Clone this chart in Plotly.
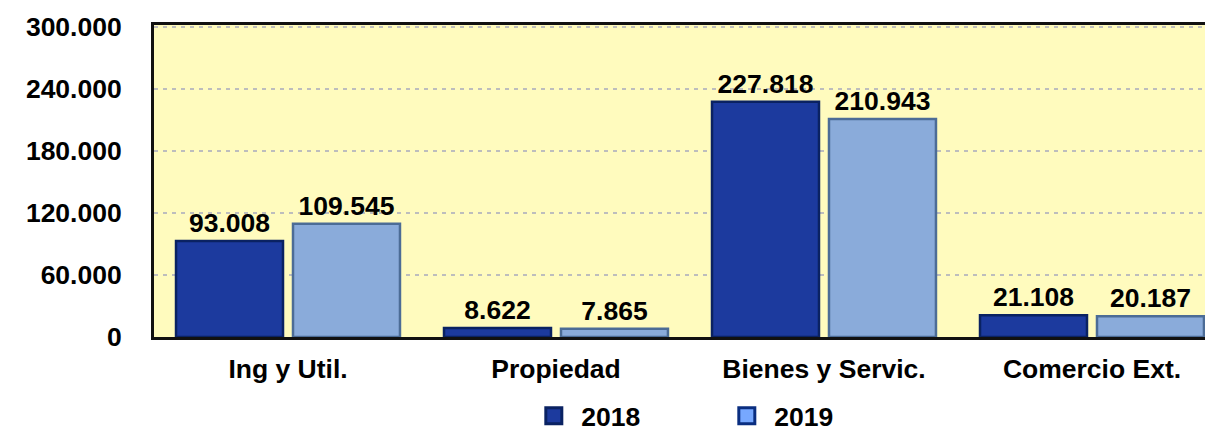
import plotly.graph_objects as go

categories = ["Ing y Util.", "Propiedad", "Bienes y Servic.", "Comercio Ext."]
values_2018 = [93008, 8622, 227818, 21108]
values_2019 = [109545, 7865, 210943, 20187]
series_names = ["2018", "2019"]
y_ticks = [0, 60000, 120000, 180000, 240000, 300000]

FONT = "Liberation Sans, Arial, sans-serif"
FS = 26.5
fill_2018, line_2018 = "#1C3A9E", "#0A2262"
fill_2019, line_2019 = "#8AABDA", "#4C6C96"

def bold(size):
    return dict(family=FONT, size=size, color="#000", weight="bold")

fig = go.Figure()
for name, vals, fc, lc in [(series_names[0], values_2018, fill_2018, line_2018),
                           (series_names[1], values_2019, fill_2019, line_2019)]:
    fig.add_trace(go.Bar(
        x=categories, y=vals, name=name, showlegend=False,
        marker=dict(color=fc, line=dict(color=lc, width=2.5)),
        text=vals, texttemplate="%{y:,d}", textposition="outside",
        textfont=bold(FS),
        constraintext="none", cliponaxis=False,
    ))

# legend entries
for name, fc, lc in [(series_names[0], "#1C3A9E", "#0A2262"),
                     (series_names[1], "#77A8FF", "#0A2E80")]:
    fig.add_trace(go.Scatter(
        x=[None], y=[None], mode="markers", name="\u00a0" + name,
        marker=dict(symbol="square", size=16, color=fc, line=dict(color=lc, width=3)),
    ))

fig.update_layout(
    width=1205, height=431,
    margin=dict(l=154, r=0, t=25, b=94),
    paper_bgcolor="white", plot_bgcolor="#FFFBBE",
    barmode="group", bargap=0.127, bargroupgap=0.0855,
    separators=",.",
    font=bold(FS),
    showlegend=True,
    legend=dict(orientation="h", xref="container", yref="container",
                x=0.443, xanchor="left", y=0.035, yanchor="middle",
                entrywidth=148, entrywidthmode="pixels",
                font=bold(FS),
                bgcolor="rgba(0,0,0,0)"),
)
fig.update_xaxes(
    range=[-0.5, 3.4217], showline=True, linecolor="#111", linewidth=3, mirror=True,
    showgrid=False, ticks="", ticklabelstandoff=6, automargin=False,
    tickfont=bold(FS),
)
fig.update_yaxes(
    range=[0, 302000], tickvals=y_ticks, tickformat=",d",
    showline=True, linecolor="#111", linewidth=3, zeroline=False,
    showgrid=True, gridcolor="#BDBDBD", gridwidth=2, griddash="4px,5px",
    ticks="", ticklabelstandoff=24, automargin=False,
    tickfont=bold(FS),
)

fig.write_html(
    "out.html",
    config={"displayModeBar": False},
    post_script="document.body.style.margin='0';document.body.style.overflow='hidden';",
)
